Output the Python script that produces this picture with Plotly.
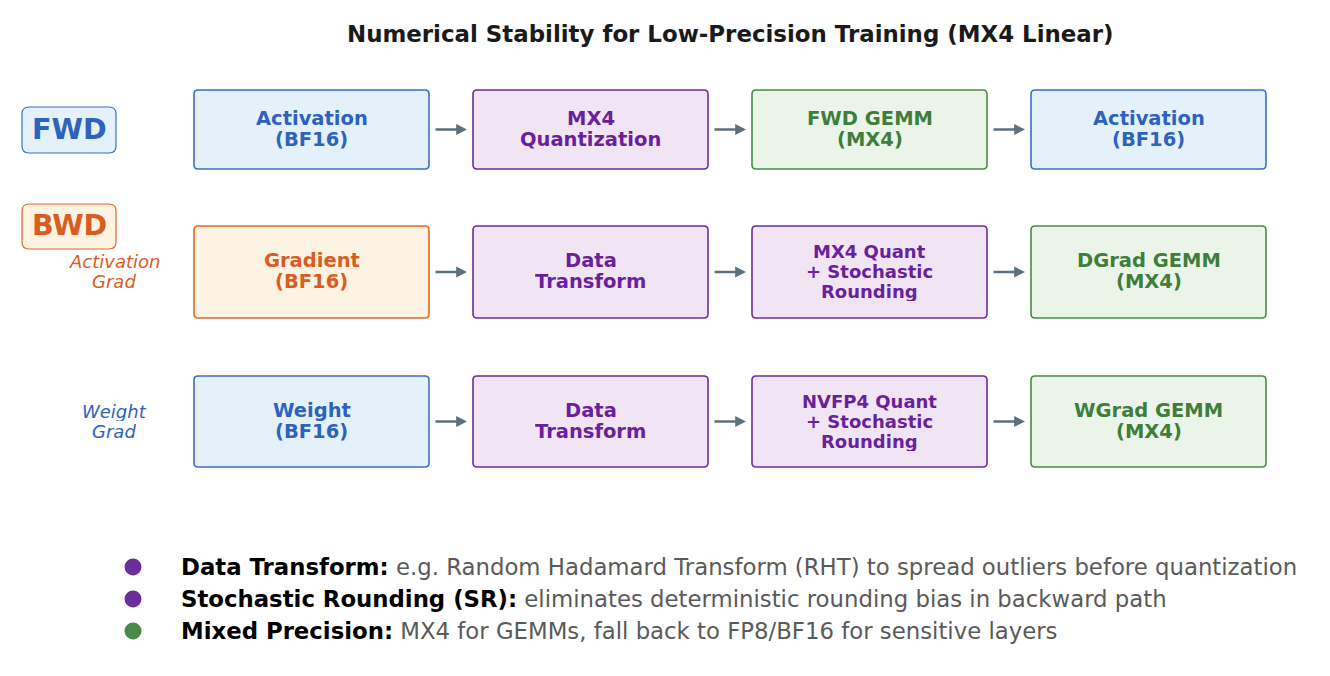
import plotly.graph_objects as go

# diagram content
title = "Numerical Stability for Low-Precision Training (MX4 Linear)"

fwd_boxes = ["Activation<br>(BF16)", "MX4<br>Quantization", "FWD GEMM<br>(MX4)", "Activation<br>(BF16)"]
fwd_kinds = ["blue", "purple", "green", "blue"]

agrad_boxes = ["Gradient<br>(BF16)", "Data<br>Transform", "MX4 Quant<br>+ Stochastic<br>Rounding", "DGrad GEMM<br>(MX4)"]
agrad_kinds = ["orange", "purple", "purple", "green"]

wgrad_boxes = ["Weight<br>(BF16)", "Data<br>Transform", "NVFP4 Quant<br>+ Stochastic<br>Rounding", "WGrad GEMM<br>(MX4)"]
wgrad_kinds = ["blue", "purple", "purple", "green"]

row_tags = ["", "Activation<br>Grad", "Weight<br>Grad"]
row_tag_kinds = ["blue", "orange", "blue"]

bullet_heads = ["Data Transform:", "Stochastic Rounding (SR):", "Mixed Precision:"]
bullet_texts = [
    "e.g. Random Hadamard Transform (RHT) to spread outliers before quantization",
    "eliminates deterministic rounding bias in backward path",
    "MX4 for GEMMs, fall back to FP8/BF16 for sensitive layers",
]
bullet_kinds = ["purple", "purple", "green"]

palette = {
    "blue": ("#3b6fc4", "#e4f1fb", "#2f62bd"),
    "purple": ("#6b2c9c", "#f1e4f4", "#6a1f9c"),
    "green": ("#4b8a46", "#eaf4e9", "#3f7d3a"),
    "orange": ("#e0692c", "#fdf3e3", "#d95d22"),
}
arrow_color = "#5e707b"
FONT = "DejaVu Sans"

W, H = 1330, 676
OFF = 8  # page body margin
col_x = [194, 473, 752, 1031]
box_w = 235
rows_y = [(90, 169), (226, 318), (376, 467)]


def rounded(x0, y0, x1, y1, r=4):
    return (f"M{x0+r},{y0} L{x1-r},{y0} Q{x1},{y0} {x1},{y0+r} "
            f"L{x1},{y1-r} Q{x1},{y1} {x1-r},{y1} L{x0+r},{y1} "
            f"Q{x0},{y1} {x0},{y1-r} L{x0},{y0+r} Q{x0},{y0} {x0+r},{y0} Z")


def stacked(x, ym, text, size, color, step, fmt="<b>{}</b>"):
    # one annotation per line so the line spacing can be set
    lines = text.split("<br>")
    out = []
    for k, ln in enumerate(lines):
        y = ym + (k - (len(lines) - 1) / 2) * step
        out.append(dict(x=x, y=y, text=fmt.format(ln), showarrow=False,
                        xanchor="center", yanchor="middle", height=step,
                        font=dict(family=FONT, size=size, color=color)))
    return out


shapes = []
annotations = []

annotations.append(dict(x=730, y=34, text=f"<b>{title}</b>", showarrow=False,
                        font=dict(family=FONT, size=22.9, color="#1a1a1a"),
                        xanchor="center", yanchor="middle"))

for (y0, y1), labels, kinds in zip(rows_y, [fwd_boxes, agrad_boxes, wgrad_boxes],
                                   [fwd_kinds, agrad_kinds, wgrad_kinds]):
    ym = (y0 + y1) / 2
    for i, (lab, kind) in enumerate(zip(labels, kinds)):
        line_c, fill_c, text_c = palette[kind]
        x0 = col_x[i]
        shapes.append(dict(type="path", path=rounded(x0, y0, x0 + box_w, y1),
                           line=dict(color=line_c, width=1.6), fillcolor=fill_c,
                           xref="x", yref="y", layer="below"))
        if lab.count("<br>") == 1:
            annotations += stacked(x0 + box_w / 2, ym - 1, lab, 19.5, text_c, 21)
        else:
            annotations += stacked(x0 + box_w / 2, ym - 1, lab, 18, text_c, 20)
        if i < len(labels) - 1:
            annotations.append(dict(x=col_x[i + 1] - 6, y=ym, ax=x0 + box_w + 5, ay=ym,
                                    xref="x", yref="y", axref="x", ayref="y", text="",
                                    showarrow=True, arrowhead=2, arrowsize=0.9,
                                    arrowwidth=2.4, arrowcolor=arrow_color))

# section tags
for (lab, kind, (y0, y1)) in [("FWD", "blue", (107, 153)), ("BWD", "orange", (204, 249))]:
    line_c, fill_c, text_c = palette[kind]
    shapes.append(dict(type="path", path=rounded(22, y0, 116, y1, 7),
                       line=dict(color=line_c, width=1.2), fillcolor=fill_c,
                       xref="x", yref="y", layer="below"))
    annotations.append(dict(x=69, y=(y0 + y1) / 2 - 1, text=f"<b>{lab}</b>", showarrow=False,
                            xanchor="center", yanchor="middle",
                            font=dict(family=FONT, size=28.5, color=text_c)))

for (y0, y1), tag, kind in zip(rows_y, row_tags, row_tag_kinds):
    if tag:
        annotations += stacked(114, (y0 + y1) / 2 - 1, tag, 18, palette[kind][2], 20, "<i>{}</i>")

# bullets
bullet_y = [567, 599, 631]
for y, head, txt, kind in zip(bullet_y, bullet_heads, bullet_texts, bullet_kinds):
    annotations.append(dict(x=179, y=y, text=f"<b>{head}</b> <span style='color:#5a5a5a'>{txt}</span>",
                            showarrow=False, xanchor="left", yanchor="middle",
                            font=dict(family=FONT, size=22.8, color="#000000")))

fig = go.Figure()
fig.add_trace(go.Scatter(x=[133] * 3, y=bullet_y, mode="markers", hoverinfo="skip",
                         marker=dict(size=17, color=[palette[k][0] for k in bullet_kinds]),
                         showlegend=False))

fig.update_layout(
    width=W, height=H, autosize=False,
    margin=dict(l=0, r=0, t=0, b=0),
    paper_bgcolor="white", plot_bgcolor="white",
    xaxis=dict(range=[OFF, W + OFF], visible=False, fixedrange=True),
    yaxis=dict(range=[H + OFF, OFF], visible=False, fixedrange=True),
    shapes=shapes, annotations=annotations,
)

fig.write_html("out.html")
